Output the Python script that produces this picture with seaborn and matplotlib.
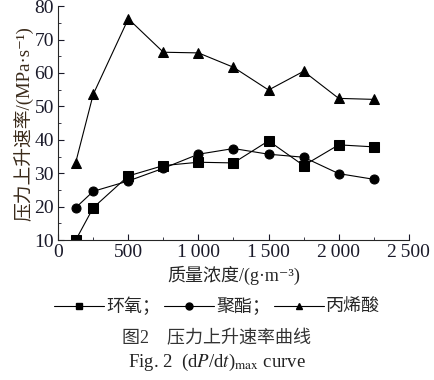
import numpy as np
import pandas as pd
import matplotlib
matplotlib.use("Agg")
import matplotlib.pyplot as plt
from matplotlib.lines import Line2D
from matplotlib.ticker import MultipleLocator, FuncFormatter
import seaborn as sns

sns.set_style("ticks")
plt.rcParams["font.family"] = ["Liberation Serif", "Noto Sans CJK SC", "DejaVu Serif"]
plt.rcParams["mathtext.fontset"] = "stix"
plt.rcParams["axes.unicode_minus"] = False

# 质量浓度 g/m3
conc = [125, 250, 500, 750, 1000, 1250, 1500, 1750, 2000, 2250]
epoxy = [10.0, 19.7, 29.2, 32.3, 33.3, 33.1, 39.7, 32.3, 38.5, 37.9]
polyester = [19.7, 24.6, 27.7, 31.5, 35.7, 37.4, 35.7, 34.8, 29.9, 28.2]
acrylic = [33.2, 53.6, 76.2, 66.2, 66.0, 61.7, 54.9, 60.5, 52.4, 52.1]
names = ["环氧", "聚酯", "丙烯酸"]
markers = ["s", "o", "^"]

df = pd.DataFrame({"conc": conc * 3,
                   "rate": epoxy + polyester + acrylic,
                   "type": [n for n in names for _ in conc]})

fig = plt.figure(figsize=(4.34, 3.8), dpi=100)
ax = fig.add_axes([0.134, 0.368, 0.808, 0.616])

for name, mk in zip(names, markers):
    sub = df[df["type"] == name]
    sns.lineplot(data=sub, x="conc", y="rate", ax=ax, color="black", lw=0.8,
                 marker=mk, markersize=6.5, markeredgecolor="black", legend=False)

ax.set_xlim(0, 2500)
ax.set_ylim(10, 80)
ax.xaxis.set_major_locator(MultipleLocator(500))
ax.xaxis.set_minor_locator(MultipleLocator(250))
ax.yaxis.set_major_locator(MultipleLocator(10))
ax.yaxis.set_minor_locator(MultipleLocator(5))
ax.xaxis.set_major_formatter(FuncFormatter(
    lambda v, p: f"{int(v):,}".replace(",", "\u2009") if v >= 1000 else f"{int(v)}"))
ax.tick_params(which="both", direction="in", labelsize=14, colors="#1a1a2a")
ax.tick_params(which="major", length=4, pad=3)
ax.tick_params(which="minor", length=2.5)
sns.despine(ax=ax)
for s in ["left", "bottom"]:
    ax.spines[s].set_linewidth(0.8)

ax.set_xlabel("质量浓度/(g·m⁻³)", fontsize=13, labelpad=3)
ax.set_ylabel("压力上升速率/(MPa·s⁻¹)", fontsize=13.5, labelpad=1, color="#3a2a1a")

handles = [Line2D([], [], color="black", lw=0.8, marker=mk, markersize=5)
           for mk in markers]
labels = ["环氧；", "聚酯；", "丙烯酸"]
fig.legend(handles, labels, loc="center", bbox_to_anchor=(0.5, 0.192), ncol=3,
           frameon=False, fontsize=13, handlelength=2.8, handletextpad=0.1,
           columnspacing=0.2)

fig.text(0.5, 0.11, "图2　压力上升速率曲线", ha="center", va="center", fontsize=13,
         color="#333333")
fig.text(0.5, 0.045, r"Fig. 2  (d$P$/d$t$)$_{\rm max}$ curve", ha="center",
         va="center", fontsize=13.5, color="#222222")

fig.savefig("out.png", dpi=100)
